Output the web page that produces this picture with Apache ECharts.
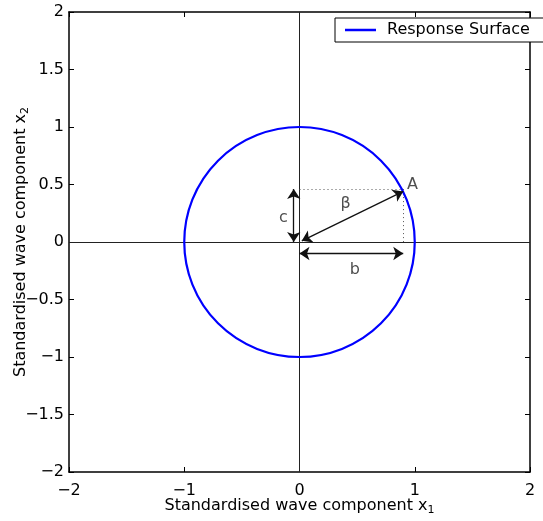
<!DOCTYPE html>
<html>
<head>
<meta charset="utf-8">
<title>Response surface</title>
<script src="https://cdn.jsdelivr.net/npm/echarts@6/dist/echarts.min.js"></script>
<style>
  html, body { margin: 0; padding: 0; background: #fff; }
  #chart { width: 543px; height: 521px; }
</style>
</head>
<body>
<div id="chart"></div>
<script>
// circle of the response surface: centre x, centre y, radius
const surface = [[0, 0, 1]];
// design point A and its components
const pointA = [0.9, 0.45];
const arrowC = [[-0.05, 0], [-0.05, 0.46]];
const arrowB = [[0, -0.1], [0.9, -0.1]];
const arrowBeta = [[0.02, 0.01], [0.9, 0.44]];
const dotted = [[[0, 0.46], [0.9, 0.46]], [[0.9, 0.46], [0.9, 0]]];
const zeroLines = [[[-2, 0], [2, 0]], [[0, -2], [0, 2]]];
const notes = [
  { name: 'c', value: [-0.14, 0.21] },
  { name: '\u03b2', value: [0.4, 0.33] },
  { name: 'b', value: [0.48, -0.24] },
  { name: 'A', value: [0.98, 0.5] }
];

const font = 'DejaVu Sans, Liberation Sans, Arial, sans-serif';
const minus = v => String(v).replace('-', '\u2212');

const chart = echarts.init(document.getElementById('chart'));

const axisBase = {
  type: 'value',
  min: -2,
  max: 2,
  axisLine: { onZero: false, lineStyle: { color: '#000', width: 1.5 } },
  axisTick: { inside: true, length: 5, lineStyle: { color: '#000' } },
  splitLine: { show: false },
  axisLabel: { color: '#000', fontSize: 16, fontFamily: font, formatter: minus }
};

const nameStyle = {
  color: '#000', fontSize: 16, fontFamily: font,
  rich: { s: { fontSize: 11, padding: [9, 0, 0, 0], color: '#000', fontFamily: font } }
};

const options = {
  animation: false,
  textStyle: { fontFamily: font },
  grid: { left: 69, top: 12, width: 461, height: 460, outerBoundsMode: 'none', containLabel: false },
  legend: {
    left: 335,
    top: 18,
    data: [{ name: 'Response Surface', icon: 'rect' }],
    itemWidth: 31,
    itemHeight: 2.5,
    padding: [4, 24, 4, 10],
    borderColor: '#000',
    borderWidth: 1,
    backgroundColor: '#fff',
    selectedMode: false,
    textStyle: { color: '#000', fontSize: 16, fontFamily: font, padding: [0, 0, 0, 6] }
  },
  xAxis: [
    {
      ...axisBase,
      interval: 1,
      position: 'bottom',
      axisLabel: { ...axisBase.axisLabel, margin: 11 },
      name: 'Standardised wave component x{s|1}',
      nameLocation: 'middle',
      nameGap: 24,
      nameMoveOverlap: false,
      nameTextStyle: nameStyle
    },
    { ...axisBase, interval: 1, position: 'top', axisLabel: { show: false } }
  ],
  yAxis: [
    {
      ...axisBase,
      interval: 0.5,
      position: 'left',
      axisLabel: { ...axisBase.axisLabel, margin: 5 },
      name: 'Standardised wave component x{s|2}',
      nameLocation: 'middle',
      nameGap: 38,
      nameMoveOverlap: false,
      nameTextStyle: nameStyle
    },
    { ...axisBase, interval: 0.5, position: 'right', axisLabel: { show: false } }
  ],
  series: [
    {
      type: 'lines',
      coordinateSystem: 'cartesian2d',
      silent: true,
      lineStyle: { color: '#222', width: 1, opacity: 1 },
      data: zeroLines.map(c => ({ coords: c }))
    },
    {
      type: 'lines',
      coordinateSystem: 'cartesian2d',
      silent: true,
      lineStyle: { color: '#555', width: 1, type: [1, 3], opacity: 1 },
      data: dotted.map(c => ({ coords: c }))
    },
    {
      name: 'Response Surface',
      type: 'custom',
      silent: true,
      itemStyle: { color: '#0000ff' },
      data: surface,
      renderItem: (params, api) => {
        const c = api.coord([api.value(0), api.value(1)]);
        const s = api.size([api.value(2), api.value(2)]);
        return {
          type: 'circle',
          x: c[0],
          y: c[1],
          scaleY: s[1] / s[0],
          shape: { cx: 0, cy: 0, r: s[0] },
          style: { fill: null, stroke: '#0000ff', lineWidth: 2.2 }
        };
      }
    },
    {
      type: 'lines',
      coordinateSystem: 'cartesian2d',
      silent: true,
      symbol: ['arrow', 'arrow'],
      symbolSize: 10,
      lineStyle: { color: '#111', width: 1.3, opacity: 1 },
      itemStyle: { color: '#111' },
      data: [arrowC, arrowB, arrowBeta].map(c => ({ coords: c }))
    },
    {
      type: 'scatter',
      silent: true,
      symbolSize: 0,
      data: notes,
      label: {
        show: true,
        position: 'inside',
        formatter: p => p.name,
        color: '#222',
        fontSize: 16,
        fontFamily: font
      }
    }
  ]
};

chart.setOption(options);
</script>
</body>
</html>
